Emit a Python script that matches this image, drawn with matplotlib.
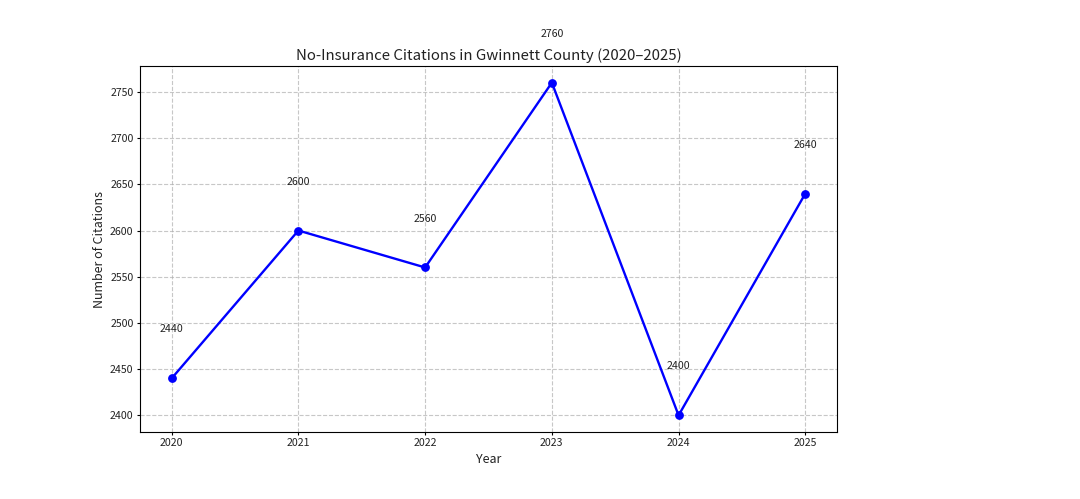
import matplotlib
matplotlib.use("Agg")
import matplotlib.pyplot as plt

plt.rcParams['font.family'] = ['Noto Sans CJK JP', 'DejaVu Sans']

# Dữ liệu
years = [2020, 2021, 2022, 2023, 2024, 2025]
citations = [2440, 2600, 2560, 2760, 2400, 2640]

fig, ax = plt.subplots(figsize=(10.8, 4.99), dpi=100)
fig.subplots_adjust(left=0.1296, right=0.775, bottom=0.1343, top=0.8677)

ax.plot(years, citations, color='blue', marker='o', linewidth=1.7, markersize=5.3)

# Nhãn giá trị phía trên mỗi điểm
for x, y in zip(years, citations):
    ax.text(x, y + 53, str(y), ha='center', va='center', fontsize=7.6, color='#222222')

ax.set_title('No-Insurance Citations in Gwinnett County (2020–2025)', fontsize=10.8,
             pad=4, color='#222222')
ax.set_xlabel('Year', fontsize=9, labelpad=3, color='#222222')
ax.set_ylabel('Number of Citations', fontsize=9, labelpad=3, color='#222222')
ax.set_xticks(years)
ax.tick_params(labelsize=7.6, length=2.4, pad=2.2, labelcolor='#222222')
ax.grid(True, linestyle='--', alpha=0.7)

fig.savefig('out.png', dpi=100)
